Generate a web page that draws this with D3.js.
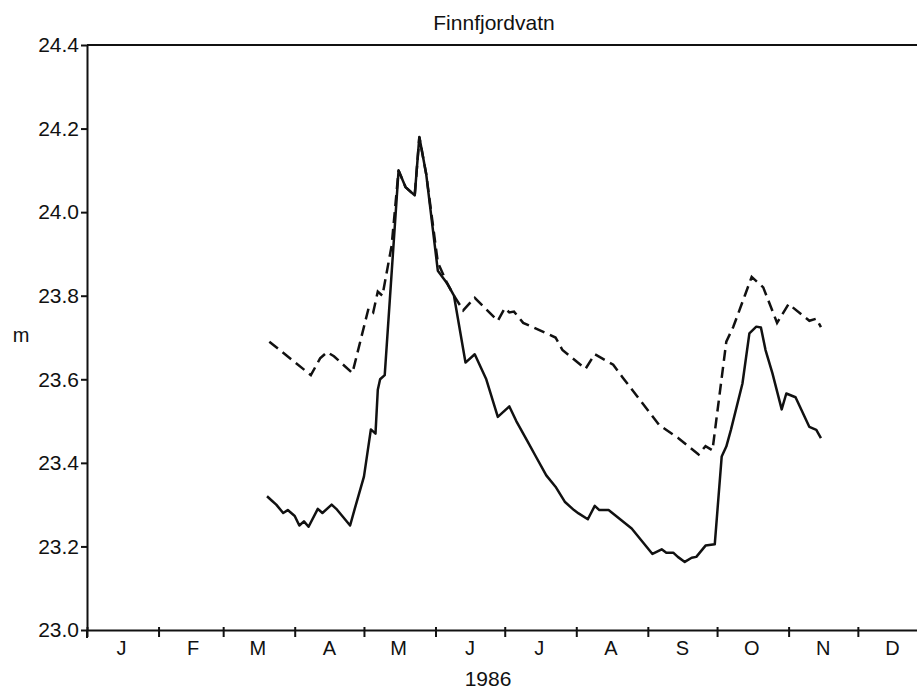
<!DOCTYPE html>
<html>
<head>
<meta charset="utf-8">
<script src="https://cdn.jsdelivr.net/npm/d3@7/dist/d3.min.js"></script>
<style>
  html, body { margin: 0; padding: 0; background: #fff; }
  svg { display: block; }
  text { font-family: "Liberation Sans", Arial, Helvetica, sans-serif; fill: #111; }
</style>
</head>
<body>
<svg id="chart" width="917" height="690"></svg>
<script>
// ---- data ----
const title = "Finnfjordvatn";
const yearLabel = "1986";
const yLabel = "m";
const monthLabels = ["J","F","M","A","M","J","J","A","S","O","N","D"];
const yTicks = [23.0, 23.2, 23.4, 23.6, 23.8, 24.0, 24.2, 24.4];

// solid series
const solidDates = ["1986-03-20","1986-03-22","1986-03-24","1986-03-27","1986-03-29","1986-04-01","1986-04-03","1986-04-05","1986-04-07","1986-04-11","1986-04-13","1986-04-17","1986-04-19","1986-04-25","1986-04-27","1986-05-01","1986-05-04","1986-05-06","1986-05-07","1986-05-08","1986-05-10","1986-05-16","1986-05-19","1986-05-23","1986-05-25","1986-05-28","1986-06-02","1986-06-06","1986-06-09","1986-06-14","1986-06-18","1986-06-23","1986-06-28","1986-07-03","1986-07-06","1986-07-11","1986-07-14","1986-07-19","1986-07-23","1986-07-27","1986-07-31","1986-08-02","1986-08-06","1986-08-09","1986-08-11","1986-08-15","1986-08-25","1986-09-03","1986-09-07","1986-09-09","1986-09-12","1986-09-14","1986-09-17","1986-09-20","1986-09-22","1986-09-26","1986-09-30","1986-10-03","1986-10-05","1986-10-07","1986-10-12","1986-10-15","1986-10-18","1986-10-20","1986-10-22","1986-10-25","1986-10-29","1986-10-31","1986-11-04","1986-11-10","1986-11-13","1986-11-15"];
const solidValues = [23.32,23.31,23.30,23.28,23.287,23.273,23.25,23.26,23.247,23.29,23.28,23.30,23.29,23.25,23.29,23.367,23.48,23.47,23.575,23.60,23.61,24.10,24.06,24.04,24.18,24.09,23.86,23.83,23.80,23.64,23.66,23.60,23.51,23.535,23.50,23.45,23.42,23.37,23.343,23.307,23.287,23.279,23.265,23.297,23.287,23.287,23.243,23.182,23.193,23.185,23.185,23.175,23.163,23.173,23.175,23.202,23.205,23.415,23.439,23.479,23.59,23.71,23.726,23.724,23.67,23.614,23.528,23.566,23.557,23.486,23.479,23.459];

// dashed series
const dashedDates = ["1986-03-21","1986-04-08","1986-04-12","1986-04-15","1986-04-18","1986-04-26","1986-05-03","1986-05-05","1986-05-07","1986-05-09","1986-05-13","1986-05-16","1986-05-19","1986-05-23","1986-05-25","1986-05-28","1986-06-02","1986-06-06","1986-06-09","1986-06-13","1986-06-18","1986-06-28","1986-07-01","1986-07-03","1986-07-05","1986-07-09","1986-07-23","1986-07-26","1986-08-05","1986-08-09","1986-08-17","1986-08-21","1986-09-06","1986-09-14","1986-09-23","1986-09-26","1986-09-29","1986-10-05","1986-10-08","1986-10-13","1986-10-16","1986-10-21","1986-10-27","1986-11-01","1986-11-10","1986-11-13","1986-11-15"];
const dashedValues = [23.69,23.61,23.65,23.665,23.655,23.615,23.77,23.76,23.81,23.80,23.92,24.10,24.06,24.04,24.18,24.09,23.88,23.83,23.80,23.765,23.795,23.74,23.77,23.76,23.762,23.735,23.70,23.67,23.625,23.66,23.635,23.605,23.49,23.46,23.42,23.44,23.43,23.69,23.725,23.80,23.845,23.82,23.735,23.78,23.74,23.745,23.725];

// ---- drawing ----
const svg = d3.select("#chart");
const parse = d3.timeParse("%Y-%m-%d");
const x = d3.scaleTime()
  .domain([new Date(1986, 0, 1), new Date(1987, 0, 1)])
  .range([87, 929.4]);
const y = d3.scaleLinear().domain([23.0, 24.4]).range([630, 45]);

// frame top line
svg.append("line")
  .attr("x1", 87).attr("x2", 917)
  .attr("y1", y(24.4)).attr("y2", y(24.4))
  .attr("stroke", "#111").attr("stroke-width", 2);

// x axis
const xAxis = svg.append("g")
  .attr("transform", `translate(0,${y(23.0)})`)
  .call(d3.axisBottom(x)
    .ticks(d3.timeMonth.every(1))
    .tickSize(7)
    .tickSizeOuter(0)
    .tickFormat(""));
xAxis.select(".domain").attr("stroke", "#111").attr("stroke-width", 2);
xAxis.selectAll(".tick line").attr("stroke", "#111").attr("stroke-width", 2).attr("y1", -3);

// month labels
svg.append("g").selectAll("text")
  .data(monthLabels)
  .join("text")
  .attr("x", (d, i) => x(new Date(1986, i, 16)))
  .attr("y", 655)
  .attr("text-anchor", "middle")
  .attr("font-size", 20)
  .text(d => d);

// y axis
const yAxis = svg.append("g")
  .attr("transform", `translate(87,0)`)
  .call(d3.axisLeft(y)
    .tickValues(yTicks)
    .tickFormat(d3.format(".1f"))
    .tickSize(6)
    .tickSizeOuter(0)
    .tickPadding(2));
yAxis.select(".domain").attr("stroke", "#111").attr("stroke-width", 2);
yAxis.selectAll(".tick line").attr("stroke", "#111").attr("stroke-width", 2);
yAxis.selectAll(".tick text")
  .attr("font-size", 21)
  .attr("font-family", "'Liberation Sans', Arial, sans-serif")
  .attr("fill", "#111");

// extend left axis slightly below the x axis
svg.append("line")
  .attr("x1", 87).attr("x2", 87)
  .attr("y1", y(23.0)).attr("y2", y(23.0) + 8)
  .attr("stroke", "#111").attr("stroke-width", 2);

// labels
svg.append("text").attr("x", 494).attr("y", 30)
  .attr("text-anchor", "middle").attr("font-size", 21).text(title);
svg.append("text").attr("x", 488).attr("y", 686)
  .attr("text-anchor", "middle").attr("font-size", 21).text(yearLabel);
svg.append("text").attr("x", 21).attr("y", 342)
  .attr("text-anchor", "middle").attr("font-size", 20).text(yLabel);

// series
const line = d3.line().x(d => x(d.date)).y(d => y(d.value));
const solid = solidDates.map((d, i) => ({ date: parse(d), value: solidValues[i] }));
const dashed = dashedDates.map((d, i) => ({ date: parse(d), value: dashedValues[i] }));

svg.append("path").datum(dashed)
  .attr("d", line)
  .attr("fill", "none")
  .attr("stroke", "#111")
  .attr("stroke-width", 2.5)
  .attr("stroke-dasharray", "11,6");

svg.append("path").datum(solid)
  .attr("d", line)
  .attr("fill", "none")
  .attr("stroke", "#111")
  .attr("stroke-width", 2.5)
  .attr("stroke-linejoin", "round");
</script>
</body>
</html>
